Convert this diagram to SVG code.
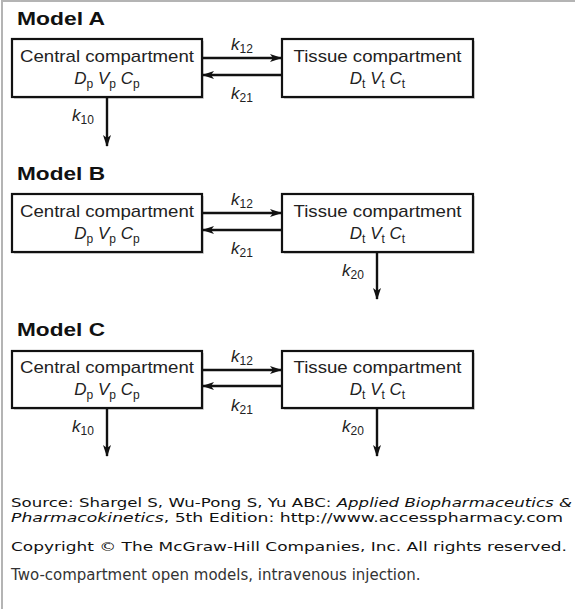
<svg xmlns="http://www.w3.org/2000/svg" width="575" height="609" viewBox="0 0 575 609">
<defs>
<style>
.frame{stroke:#b4b4b4;stroke-width:2;fill:none}
.box{fill:#fff;stroke:#111;stroke-width:2.2}
.shadow{fill:#d8d8d8}
.lbl{font-family:"Liberation Sans",Arial,sans-serif;font-size:17px;fill:#222;text-anchor:middle}
.var{font-family:"Liberation Sans",Arial,sans-serif;font-size:17px;font-style:italic;fill:#222;text-anchor:middle}
.sub{font-style:normal;font-size:12px}
.title{font-family:"Liberation Sans",Arial,sans-serif;font-size:18px;font-weight:bold;fill:#111}
.k{font-family:"Liberation Sans",Arial,sans-serif;font-size:17px;font-style:italic;fill:#222}
.conn{stroke:#111;stroke-width:2.4;fill:none}
.foot{font-family:"DejaVu Sans",Verdana,sans-serif;font-size:12.5px;fill:#111}
.cap{font-family:"DejaVu Sans",Verdana,sans-serif;font-size:15px;fill:#333}
</style>
<marker id="ah" viewBox="0 0 12 8" refX="11" refY="4" markerUnits="userSpaceOnUse" markerWidth="13" markerHeight="8" orient="auto">
<path d="M0,0 L12,4 L0,8 L3,4 Z" fill="#111"/>
</marker>
</defs>
<rect width="575" height="609" fill="#fff"/>
<path class="frame" d="M2,609 V1 H575"/>

<!-- Model A -->
<text class="title" x="17" y="25" textLength="88" lengthAdjust="spacingAndGlyphs">Model A</text>
<g id="A-central">
<rect class="shadow" x="14" y="41" width="190" height="58"/>
<rect class="box" x="12" y="39" width="190" height="58"/>
<text class="lbl" x="107" y="62" textLength="174" lengthAdjust="spacingAndGlyphs">Central compartment</text>
<text class="var" x="107" y="84">D<tspan class="sub" dy="4">p</tspan><tspan dy="-4"> V</tspan><tspan class="sub" dy="4">p</tspan><tspan dy="-4"> C</tspan><tspan class="sub" dy="4">p</tspan></text>
</g>
<g id="A-tissue">
<rect class="shadow" x="284" y="41" width="191" height="58"/>
<rect class="box" x="282" y="39" width="191" height="58"/>
<text class="lbl" x="377.5" y="62" textLength="168" lengthAdjust="spacingAndGlyphs">Tissue compartment</text>
<text class="var" x="377.5" y="84">D<tspan class="sub" dy="4">t</tspan><tspan dy="-4"> V</tspan><tspan class="sub" dy="4">t</tspan><tspan dy="-4"> C</tspan><tspan class="sub" dy="4">t</tspan></text>
</g>
<g id="A-connectors">
<line class="conn" x1="203" y1="58" x2="281" y2="58" marker-end="url(#ah)"/>
<line class="conn" x1="281" y1="75" x2="203" y2="75" marker-end="url(#ah)"/>
<line class="conn" x1="107" y1="98" x2="107" y2="146" marker-end="url(#ah)"/>
<text class="k" x="231" y="50">k<tspan class="sub" dy="3">12</tspan></text>
<text class="k" x="231" y="99">k<tspan class="sub" dy="3">21</tspan></text>
<text class="k" x="72" y="121">k<tspan class="sub" dy="3">10</tspan></text>
</g>

<!-- Model B -->
<text class="title" x="17" y="180" textLength="88" lengthAdjust="spacingAndGlyphs">Model B</text>
<g id="B-central">
<rect class="shadow" x="14" y="196" width="190" height="58"/>
<rect class="box" x="12" y="194" width="190" height="58"/>
<text class="lbl" x="107" y="217" textLength="174" lengthAdjust="spacingAndGlyphs">Central compartment</text>
<text class="var" x="107" y="239">D<tspan class="sub" dy="4">p</tspan><tspan dy="-4"> V</tspan><tspan class="sub" dy="4">p</tspan><tspan dy="-4"> C</tspan><tspan class="sub" dy="4">p</tspan></text>
</g>
<g id="B-tissue">
<rect class="shadow" x="284" y="196" width="191" height="58"/>
<rect class="box" x="282" y="194" width="191" height="58"/>
<text class="lbl" x="377.5" y="217" textLength="168" lengthAdjust="spacingAndGlyphs">Tissue compartment</text>
<text class="var" x="377.5" y="239">D<tspan class="sub" dy="4">t</tspan><tspan dy="-4"> V</tspan><tspan class="sub" dy="4">t</tspan><tspan dy="-4"> C</tspan><tspan class="sub" dy="4">t</tspan></text>
</g>
<g id="B-connectors">
<line class="conn" x1="203" y1="213" x2="281" y2="213" marker-end="url(#ah)"/>
<line class="conn" x1="281" y1="230" x2="203" y2="230" marker-end="url(#ah)"/>
<line class="conn" x1="377" y1="253" x2="377" y2="299" marker-end="url(#ah)"/>
<text class="k" x="231" y="205">k<tspan class="sub" dy="3">12</tspan></text>
<text class="k" x="231" y="254">k<tspan class="sub" dy="3">21</tspan></text>
<text class="k" x="342" y="276">k<tspan class="sub" dy="3">20</tspan></text>
</g>

<!-- Model C -->
<text class="title" x="17" y="336" textLength="88" lengthAdjust="spacingAndGlyphs">Model C</text>
<g id="C-central">
<rect class="shadow" x="14" y="353" width="190" height="57"/>
<rect class="box" x="12" y="351" width="190" height="57"/>
<text class="lbl" x="107" y="373" textLength="174" lengthAdjust="spacingAndGlyphs">Central compartment</text>
<text class="var" x="107" y="395">D<tspan class="sub" dy="4">p</tspan><tspan dy="-4"> V</tspan><tspan class="sub" dy="4">p</tspan><tspan dy="-4"> C</tspan><tspan class="sub" dy="4">p</tspan></text>
</g>
<g id="C-tissue">
<rect class="shadow" x="284" y="353" width="191" height="57"/>
<rect class="box" x="282" y="351" width="191" height="57"/>
<text class="lbl" x="377.5" y="373" textLength="168" lengthAdjust="spacingAndGlyphs">Tissue compartment</text>
<text class="var" x="377.5" y="395">D<tspan class="sub" dy="4">t</tspan><tspan dy="-4"> V</tspan><tspan class="sub" dy="4">t</tspan><tspan dy="-4"> C</tspan><tspan class="sub" dy="4">t</tspan></text>
</g>
<g id="C-connectors">
<line class="conn" x1="203" y1="370" x2="281" y2="370" marker-end="url(#ah)"/>
<line class="conn" x1="281" y1="386" x2="203" y2="386" marker-end="url(#ah)"/>
<line class="conn" x1="107" y1="409" x2="107" y2="456" marker-end="url(#ah)"/>
<line class="conn" x1="377" y1="409" x2="377" y2="456" marker-end="url(#ah)"/>
<text class="k" x="231" y="362">k<tspan class="sub" dy="3">12</tspan></text>
<text class="k" x="231" y="411">k<tspan class="sub" dy="3">21</tspan></text>
<text class="k" x="72" y="432">k<tspan class="sub" dy="3">10</tspan></text>
<text class="k" x="342" y="432">k<tspan class="sub" dy="3">20</tspan></text>
</g>

<!-- Footer -->
<text class="foot" x="11" y="507" textLength="561" lengthAdjust="spacingAndGlyphs">Source: Shargel S, Wu-Pong S, Yu ABC: <tspan font-style="italic">Applied Biopharmaceutics &amp;</tspan></text>
<text class="foot" x="11" y="522" textLength="552" lengthAdjust="spacingAndGlyphs"><tspan font-style="italic">Pharmacokinetics</tspan>, 5th Edition: http://www.accesspharmacy.com</text>
<text class="foot" x="11" y="551" textLength="556" lengthAdjust="spacingAndGlyphs">Copyright © The McGraw-Hill Companies, Inc. All rights reserved.</text>
<text class="cap" x="11" y="580">Two-compartment open models, intravenous injection.</text>
</svg>
